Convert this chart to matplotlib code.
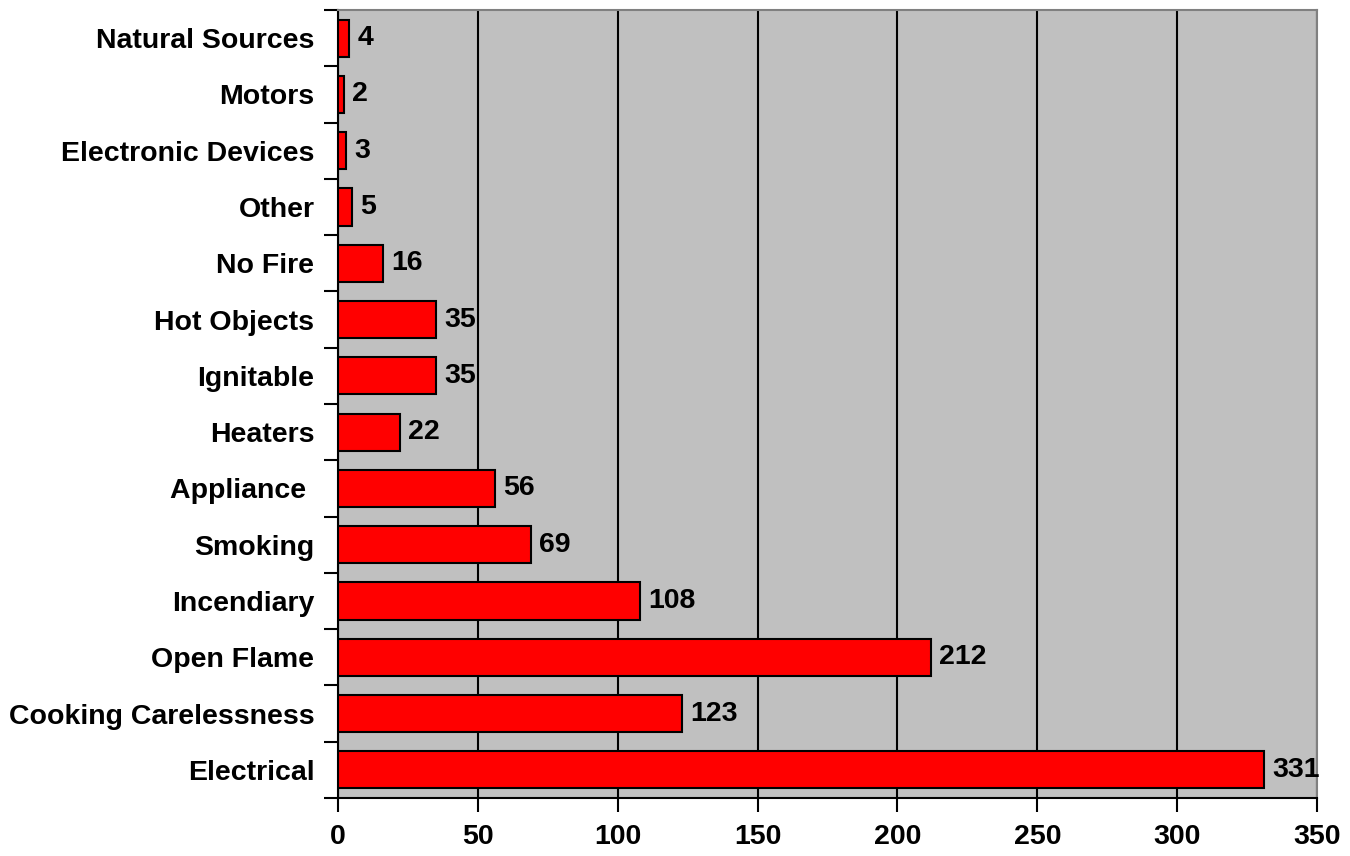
import numpy as np
import matplotlib.pyplot as plt

plt.rcParams['font.family'] = ['Liberation Sans', 'DejaVu Sans']
plt.rcParams['font.weight'] = 'bold'

################

causes = ['Electrical', 'Cooking Carelessness', 'Open Flame', 'Incendiary',
          'Smoking', 'Appliance ', 'Heaters', 'Ignitable', 'Hot Objects',
          'No Fire', 'Other', 'Electronic Devices', 'Motors', 'Natural Sources']
counts = [331, 123, 212, 108, 69, 56, 22, 35, 35, 16, 5, 3, 2, 4]

x_ticks = [0, 50, 100, 150, 200, 250, 300, 350]

################

fig = plt.figure(figsize=(13.5, 8.56), dpi=100)
ax = fig.add_axes([338 / 1350, 1 - 798 / 856, (1317 - 338) / 1350, (798 - 10) / 856])
ax.set_facecolor('#C0C0C0')

pos = np.arange(len(causes))
bars = ax.barh(pos, counts, height=0.66, color='#FF0000', edgecolor='black',
               linewidth=1.5, zorder=3)
ax.bar_label(bars, labels=[str(c) for c in counts], padding=6,
             fontsize=20.5, fontweight='bold', zorder=4)

ax.set_xlim(0, 350)
ax.set_ylim(-0.5, len(causes) - 0.5)
ax.set_xticks(x_ticks)
ax.set_xticklabels([str(t) for t in x_ticks], fontsize=20.5, fontweight='bold')
ax.tick_params(axis='x', length=10, width=1.5, pad=9)

ax.set_yticks(pos)
ax.set_yticklabels(causes, fontsize=20.5, fontweight='bold')
ax.set_yticks(list(pos - 0.5) + [len(causes) - 0.5], minor=True)
ax.tick_params(axis='y', which='major', length=0, pad=17)
ax.tick_params(axis='y', which='minor', length=10, width=1.5)

ax.grid(axis='x', color='black', linewidth=1.5, zorder=1)

for s in ['left', 'bottom']:
    ax.spines[s].set_color('black')
    ax.spines[s].set_linewidth(1.5)
for s in ['top', 'right']:
    ax.spines[s].set_color('#808080')
    ax.spines[s].set_linewidth(1.5)

plt.savefig('out.png', dpi=100)
